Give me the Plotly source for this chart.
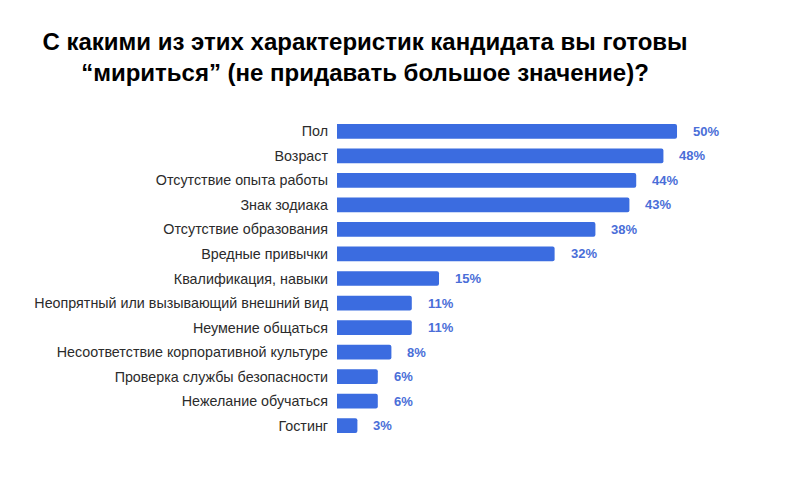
import plotly.graph_objects as go

categories = [
    "Пол",
    "Возраст",
    "Отсутствие опыта работы",
    "Знак зодиака",
    "Отсутствие образования",
    "Вредные привычки",
    "Квалификация, навыки",
    "Неопрятный или вызывающий внешний вид",
    "Неумение общаться",
    "Несоответствие корпоративной культуре",
    "Проверка службы безопасности",
    "Нежелание обучаться",
    "Гостинг",
]
values = [50, 48, 44, 43, 38, 32, 15, 11, 11, 8, 6, 6, 3]
value_labels = [f"{v}%" for v in values]

title_text = "С какими из этих характеристик кандидата вы готовы<br>“мириться” (не придавать большое значение)?"

bar_color = "#3b6ce0"
label_color = "#4a6ed8"

fig = go.Figure()
fig.add_trace(go.Bar(
    x=values,
    y=categories,
    orientation="h",
    marker=dict(color=bar_color, cornerradius=2, line=dict(width=0)),
    hoverinfo="skip",
))

for c, v, t in zip(categories, values, value_labels):
    fig.add_annotation(
        x=v, y=c, text=t, xref="x", yref="y",
        xanchor="left", yanchor="middle", xshift=14, showarrow=False,
        font=dict(family="Liberation Sans, Arial, sans-serif", size=13, color=label_color, weight="bold"),
    )

fig.update_layout(
    width=807, height=499,
    paper_bgcolor="white", plot_bgcolor="white",
    margin=dict(l=329, r=88, t=111, b=69),
    bargap=0.4,
    showlegend=False,
    title=dict(
        text=title_text,
        x=357 / 807, xanchor="center", xref="container",
        y=1 - 42 / 499, yanchor="top", yref="container",
        font=dict(family="Liberation Sans, Arial, sans-serif",
                  size=24, color="#000000", weight="bold"),
    ),
    xaxis=dict(range=[0, 57.35], showgrid=False, zeroline=False, showticklabels=False,
               showline=False, ticks=""),
    yaxis=dict(autorange="reversed", showgrid=False, zeroline=False, showline=False,
               ticks="", ticklabelstandoff=8,
               tickfont=dict(family="Liberation Sans, Arial, sans-serif", size=14.3, color="#2b2b2b")),
)

fig.write_html("out.html")
